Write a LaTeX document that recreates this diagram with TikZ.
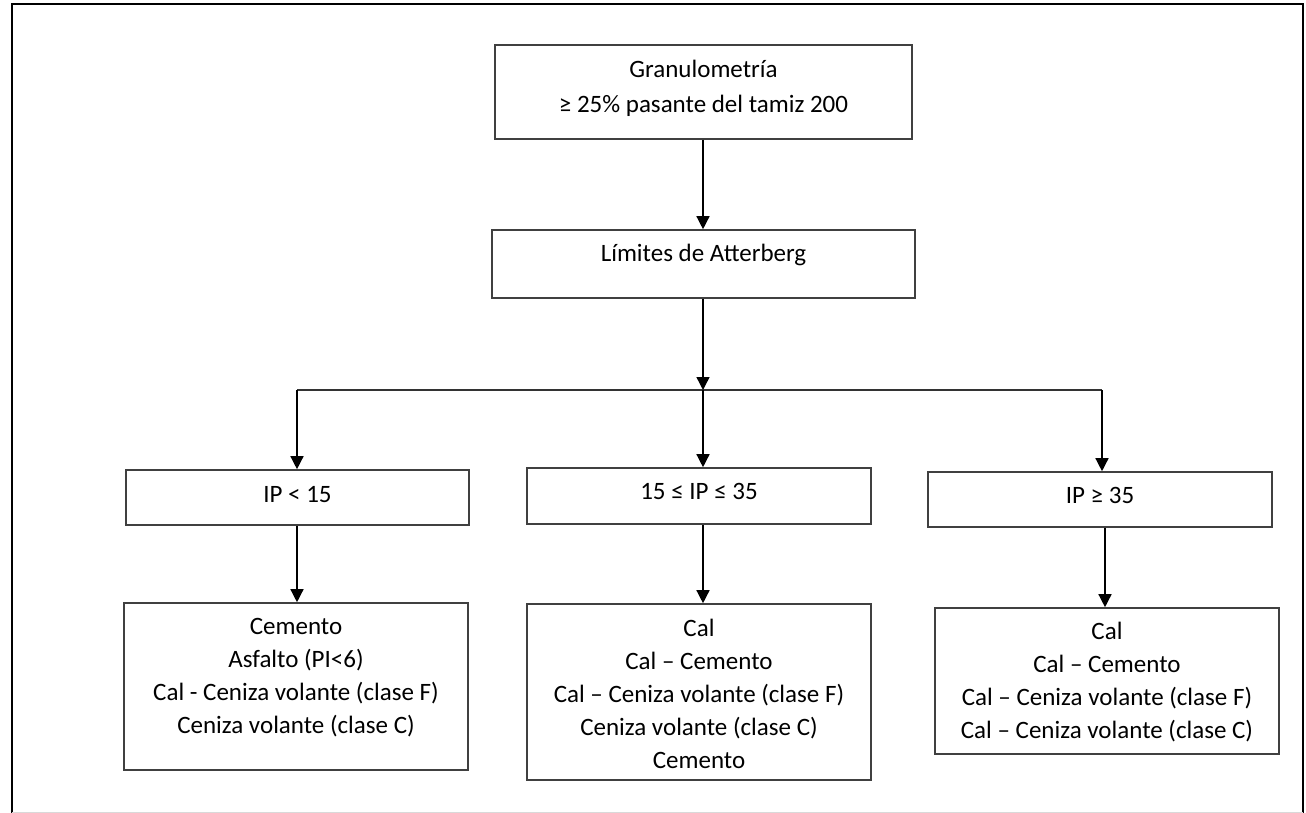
\documentclass[tikz,border=0pt]{standalone}
\usepackage{fontspec}
\setmainfont{Carlito}
\usetikzlibrary{arrows.meta}
\begin{document}
\begin{tikzpicture}[x=1pt,y=-1pt,
  box/.style={draw=black!75, line width=1.6pt, rectangle, inner sep=0pt},
  txt/.style={inner sep=0pt, anchor=north, align=center, font=\fontsize{25}{33}\selectfont},
  arr/.style={draw=black, line width=1.4pt, -{Triangle[length=13pt,width=13pt]}},
  conn/.style={draw=black!80, line width=1.4pt}]
\useasboundingbox (0,0) rectangle (1306,813);
% outer frame
\draw[black, line width=2pt] (12,813) -- (12,4) -- (1303,4) -- (1303,813);
\draw[black!15, line width=1pt] (12,812) -- (1303,812);
% boxes
\node[box, minimum width=417pt, minimum height=94pt] (b1) at (703.5,92) {};
\node[box, minimum width=423pt, minimum height=68pt] (b2) at (703.5,264) {};
\node[box, minimum width=343pt, minimum height=55pt] (l1) at (297.5,497.5) {};
\node[box, minimum width=344pt, minimum height=56pt] (m1) at (699,496) {};
\node[box, minimum width=344pt, minimum height=55pt] (r1) at (1100,499.5) {};
\node[box, minimum width=344pt, minimum height=167pt] (l2) at (296,686.5) {};
\node[box, minimum width=344pt, minimum height=176pt] (m2) at (699,692) {};
\node[box, minimum width=344pt, minimum height=146pt] (r2) at (1107,681) {};
% texts
\node[txt, font=\fontsize{25}{35}\selectfont] (t1) at ([yshift=-8.9pt]b1.north) {\strut Granulometría\\≥ 25\% pasante del tamiz 200};
\node[txt] (t2) at ([yshift=-8.9pt]b2.north) {\strut Límites de Atterberg};
\node[txt] (t3) at ([yshift=-9.9pt]l1.north) {\strut IP < 15};
\node[txt] (t4) at ([yshift=-8.9pt]m1.north) {\strut 15 ≤ IP ≤ 35};
\node[txt] (t5) at ([yshift=-8.9pt]r1.north) {\strut IP ≥ 35};
\node[txt] (t6) at ([yshift=-9.4pt]l2.north) {\strut Cemento\\Asfalto (PI<6)\\Cal - Ceniza volante (clase F)\\Ceniza volante (clase C)};
\node[txt] (t7) at ([yshift=-9.9pt]m2.north) {\strut Cal\\Cal – Cemento\\Cal – Ceniza volante (clase F)\\Ceniza volante (clase C)\\Cemento};
\node[txt] (t8) at ([yshift=-8.9pt]r2.north) {\strut Cal\\Cal – Cemento\\Cal – Ceniza volante (clase F)\\Cal – Ceniza volante (clase C)};
% connectors
\coordinate (j) at (703,390);
\coordinate (jl) at (297,390);
\coordinate (jr) at (1102,390);
\draw[arr] (b1.south -| j) -- (b2.north -| j);
\draw[conn] (jl) -- (jr);
\draw[arr] (b2.south -| j) -- (j);
\draw[arr] (jl) -- (jl |- l1.north);
\draw[arr] (j) -- (j |- m1.north);
\draw[arr] (jr) -- (jr |- r1.north);
\draw[arr] (l1.south -| jl) -- (jl |- l2.north);
\draw[arr] (m1.south -| j) -- (j |- m2.north);
\draw[arr] ([xshift=3pt]jr |- r1.south) -- ([xshift=3pt]jr |- r2.north);
\end{tikzpicture}
\end{document}
